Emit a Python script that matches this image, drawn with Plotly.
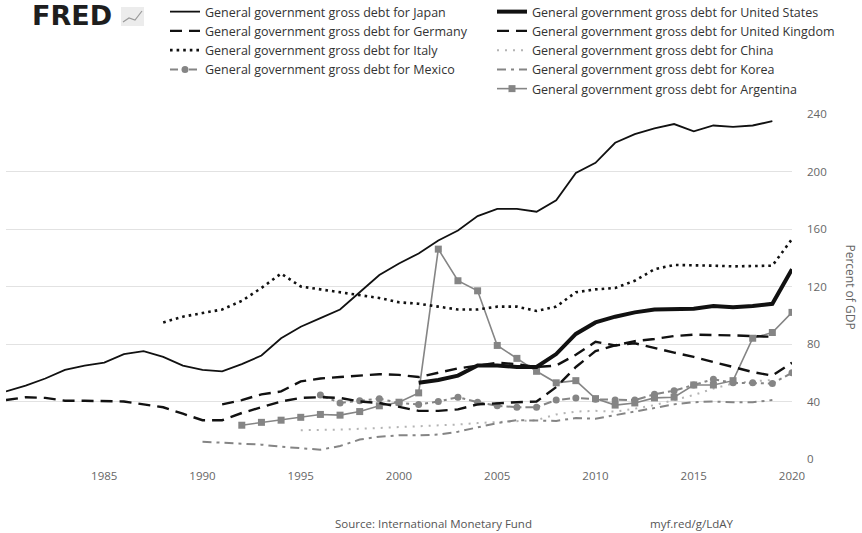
import plotly.graph_objects as go

# IMF general government gross debt, percent of GDP
years_japan = list(range(1980, 2020))
japan = [47, 51, 56, 62, 65, 67, 73, 75, 71, 65, 62, 61, 66, 72, 84, 92, 98, 104, 116, 128,
         136, 143, 152, 159, 169, 174, 174, 172, 180, 199, 206, 220, 226, 230, 233, 228, 232, 231, 232, 235]

years_us = list(range(2001, 2021))
united_states = [53, 55, 58, 65, 65, 64, 64, 73, 87, 95, 99, 102, 104, 104, 104.5, 106.5, 105.5, 106.5, 108, 132]

years_germany = list(range(1991, 2021))
germany = [38, 41, 45, 47, 54, 56, 57, 58, 59, 58.5, 57, 60, 63, 65, 67, 66, 64, 65, 72.5, 81.5,
           79, 80.5, 77, 74, 71, 67.5, 64, 60.5, 58, 67]

years_uk = list(range(1980, 2020))
united_kingdom = [41, 43, 42.5, 40.5, 40.5, 40, 40, 38, 36, 31.5, 27, 27, 32, 36, 40, 42.5, 43, 42.5, 40, 39,
                  36, 33.5, 33.5, 34.5, 38, 39, 39.5, 40, 50, 64, 75, 79, 82, 83.5, 85.5, 86.5, 86.5, 86, 85.5, 85]

years_italy = list(range(1988, 2021))
italy = [95, 99, 101.5, 104, 110, 119, 129, 120, 118, 116, 114, 112, 109, 108, 106, 104, 104, 106, 106, 103,
         106, 116, 118, 119, 124, 132, 135, 135, 134.5, 134, 134, 134.5, 153]

years_china = list(range(1995, 2020))
china = [20, 20, 20.5, 21, 21.5, 22, 23, 23.5, 24, 25, 25.5, 26.5, 27, 31, 33, 33.5, 33, 35, 37.5, 41,
         44.5, 49, 52.5, 54, 55]

years_mexico = list(range(1996, 2021))
mexico = [44.5, 39, 40.5, 42, 39, 38, 40, 43, 39.5, 37, 36, 36, 41, 42.5, 41.5, 41, 41, 45, 47.5, 51.5,
          55.5, 53, 53, 52.5, 60]

years_korea = list(range(1990, 2020))
korea = [12, 11.5, 11, 10, 8.5, 7.5, 6.5, 9, 13.5, 15.5, 16.5, 16.5, 17, 19, 22, 25, 27, 26.5, 26.5, 28.5,
         28, 30.5, 33, 35.5, 38, 39.5, 40, 39.5, 39.5, 41]

years_argentina = list(range(1992, 2021))
argentina = [23.5, 25.5, 27, 29, 31, 30.5, 33, 37, 39.5, 46, 146, 124, 117, 79, 70, 61, 53, 54.5, 42, 37.5,
             39, 42.5, 43, 51.5, 51.5, 54.5, 84, 88, 102]

x_ticks = [1985, 1990, 1995, 2000, 2005, 2010, 2015, 2020]
y_ticks = [0, 40, 80, 120, 160, 200, 240]

label = "General government gross debt for "
GRAY = "#858585"

# plot area in pixels, used to place the page furniture
L, R, T, B = 6, 792, 114, 459


def px(x):
    return (x - L) / (R - L)


def py(y):
    return (B - y) / (B - T)


fig = go.Figure()

# gray series first so the black ones sit on top
fig.add_trace(go.Scatter(x=years_china, y=china, mode="lines", name=label + "China",
                         line=dict(color="#b4b4b4", width=2, dash="2px,6px"),
                         legend="legend2", legendrank=3))
fig.add_trace(go.Scatter(x=years_korea, y=korea, mode="lines", name=label + "Korea",
                         line=dict(color=GRAY, width=2, dash="9px,5px,3px,5px"),
                         legend="legend2", legendrank=4))
fig.add_trace(go.Scatter(x=years_mexico, y=mexico, mode="lines+markers", name=label + "Mexico",
                         line=dict(color=GRAY, width=2, dash="8px,4px,3px,4px"),
                         marker=dict(symbol="circle", size=7, color=GRAY),
                         legend="legend", legendrank=4))
fig.add_trace(go.Scatter(x=years_argentina, y=argentina, mode="lines+markers", name=label + "Argentina",
                         line=dict(color=GRAY, width=1.6),
                         marker=dict(symbol="square", size=7, color=GRAY),
                         legend="legend2", legendrank=5))
fig.add_trace(go.Scatter(x=years_uk, y=united_kingdom, mode="lines", name=label + "United Kingdom",
                         line=dict(color="#111111", width=2.4, dash="12px,7px"),
                         legend="legend2", legendrank=2))
fig.add_trace(go.Scatter(x=years_germany, y=germany, mode="lines", name=label + "Germany",
                         line=dict(color="#111111", width=2.4, dash="12px,7px"),
                         legend="legend", legendrank=2))
fig.add_trace(go.Scatter(x=years_italy, y=italy, mode="lines", name=label + "Italy",
                         line=dict(color="#111111", width=2.6, dash="2.6px,4px"),
                         legend="legend", legendrank=3))
fig.add_trace(go.Scatter(x=years_japan, y=japan, mode="lines", name=label + "Japan",
                         line=dict(color="#111111", width=1.8),
                         legend="legend", legendrank=1))
fig.add_trace(go.Scatter(x=years_us, y=united_states, mode="lines", name=label + "United States",
                         line=dict(color="#111111", width=4),
                         legend="legend2", legendrank=1))

legend_style = dict(font=dict(family="Open Sans", size=12.5, color="#333333"),
                    bgcolor="rgba(0,0,0,0)", xref="container", yref="paper",
                    xanchor="left", yanchor="top", traceorder="normal")

fig.update_layout(
    width=862,
    height=533,
    margin=dict(l=L, r=862 - R, t=T, b=533 - B, autoexpand=False),
    paper_bgcolor="white",
    plot_bgcolor="white",
    font=dict(family="Open Sans", color="#666666"),
    showlegend=True,
    legend=dict(x=165 / 862, y=py(-3), **legend_style),
    legend2=dict(x=492 / 862, y=py(-3), **legend_style),
    xaxis=dict(range=[1980, 2020], tickvals=x_ticks, ticktext=[str(v) for v in x_ticks],
               showgrid=False, zeroline=False, showline=False, ticks="",
               ticklabelstandoff=8, tickfont=dict(size=11.5, color="#666666")),
    yaxis=dict(range=[0, 240], tickvals=y_ticks, side="right",
               showgrid=True, gridcolor="#e2e2e2", gridwidth=1, zeroline=False, showline=False,
               ticks="", ticklabelstandoff=14, tickfont=dict(size=11.5, color="#666666")),
    annotations=[
        dict(text="Percent of GDP", xref="paper", yref="paper", x=px(850), y=0.5,
             xanchor="center", yanchor="middle",
             textangle=90, showarrow=False, font=dict(size=12, color="#666666")),
        dict(text="Source: International Monetary Fund", xref="paper", yref="paper",
             x=px(333), y=py(523), xanchor="left", yanchor="middle", showarrow=False,
             font=dict(size=11.5, color="#555555")),
        dict(text="myf.red/g/LdAY", xref="paper", yref="paper",
             x=px(648), y=py(523), xanchor="left", yanchor="middle", showarrow=False,
             font=dict(size=11.5, color="#555555")),
        dict(text="<b>FRED</b>", xref="paper", yref="paper",
             x=px(30), y=py(16), xanchor="left", yanchor="middle", showarrow=False,
             font=dict(family="DejaVu Sans", size=27, color="#1e1e1e")),
    ],
    shapes=[
        # small FRED chart icon
        dict(type="rect", xref="paper", yref="paper", layer="above",
             x0=px(121), x1=px(144), y0=py(26), y1=py(7),
             fillcolor="#ececec", line=dict(width=0)),
        dict(type="path", xref="paper", yref="paper", layer="above",
             path="M {0},{1} L {2},{3} L {4},{5} L {6},{7}".format(
                 px(123), py(22), px(129), py(18), px(135), py(20), px(142), py(11)),
             line=dict(color="#9a9a9a", width=1.2)),
    ],
)

# the page's default body margin would push the 862x533 figure off the window
fig.write_html("out.html", config={"displayModeBar": False},
               post_script="document.body.style.margin = '0px';")
